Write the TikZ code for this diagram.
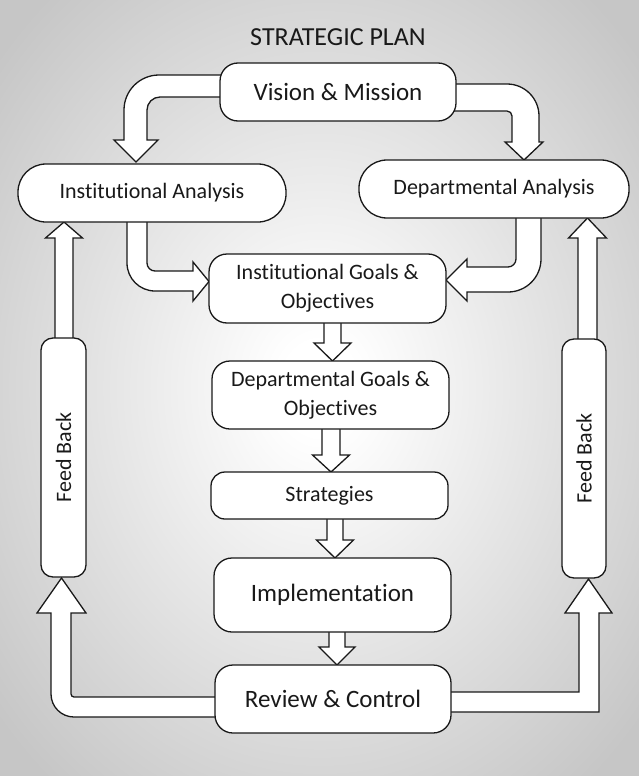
\documentclass[tikz,border=0pt]{standalone}
\usepackage{fontspec}
\setmainfont[Ligatures=NoCommon]{Carlito}
\usetikzlibrary{calc}
\definecolor{bgc}{RGB}{198,198,198}
\definecolor{ink}{RGB}{25,25,25}
\pgfdeclareradialshading{bgshade}{\pgfpoint{0bp}{0bp}}{color(0bp)=(white); color(3bp)=(white); color(33bp)=(bgc); color(50bp)=(bgc)}
\pgfdeclarelayer{back}
\pgfdeclarelayer{arr}
\pgfsetlayers{back,arr,main}
\newcommand{\vblk}[6]{% x centre, shaft half width, head half width, y start, y head base, y tip
  \draw[blk] ({#1-#2},-#4) -- ({#1-#2},-#5) -- ({#1-#3},-#5) -- (#1,-#6) -- ({#1+#3},-#5) -- ({#1+#2},-#5) -- ({#1+#2},-#4) -- cycle;}
\begin{document}
\begin{tikzpicture}[x=1pt,y=1pt,
  box/.style={draw=ink,fill=white,line width=1.3pt,rounded corners=18pt,inner sep=0pt,align=center,text=ink,font=\fontsize{22}{29}\selectfont},
  big/.style={font=\fontsize{25}{30}\selectfont},
  blk/.style={draw=ink,fill=white,line width=1.3pt,line join=miter}]
\useasboundingbox (0,0) rectangle (639,-776);
\begin{pgfonlayer}{back}
\shade[shading=bgshade] (0,0) rectangle (639,-776);
\end{pgfonlayer}

\node[text=ink,font=\fontsize{26}{30}\selectfont] (title) at (338,-37) {STRATEGIC PLAN};
\node[box,big,minimum width=236pt,minimum height=58pt] (vm) at (338,-92) {Vision \& Mission};
\node[box,minimum width=268pt,minimum height=58pt,rounded corners=28pt] (ia) at (152,-193) {Institutional Analysis};
\node[box,minimum width=270pt,minimum height=58pt,rounded corners=28pt] (da) at (494,-189) {Departmental Analysis};
\node[box,minimum width=237pt,minimum height=69pt] (ig) at (327.5,-288.5) {Institutional Goals \&\\Objectives};
\node[box,minimum width=237pt,minimum height=68pt] (dg) at (330.5,-395) {Departmental Goals \&\\Objectives};
\node[box,minimum width=237pt,minimum height=47pt,rounded corners=14pt] (st) at (329.5,-495.5) {Strategies};
\node[box,big,minimum width=237pt,minimum height=74pt] (im) at (332.5,-595) {Implementation};
\node[box,big,minimum width=236pt,minimum height=68pt] (rc) at (333,-699) {Review \& Control};
\node[box,rotate=90,minimum width=239pt,minimum height=45pt,rounded corners=12pt] (fl) at (63.5,-457.5) {Feed Back};
\node[box,rotate=90,minimum width=239pt,minimum height=44pt,rounded corners=12pt] (fr) at (584,-458.5) {Feed Back};

\begin{pgfonlayer}{arr}
% Vision -> Institutional Analysis
\draw[blk] (232,-75) -- (159,-75) arc[start angle=90,end angle=180,radius=35] -- (124,-140) -- (114,-140) -- (136,-162) -- (158,-140) -- (147,-140) -- (147,-110) arc[start angle=180,end angle=90,radius=13] -- (232,-97) -- cycle;
% Vision -> Departmental Analysis
\draw[blk] (445,-84) -- (507,-84) arc[start angle=90,end angle=0,radius=32] -- (539,-142) -- (543,-142) -- (524,-160) -- (505,-142) -- (512,-142) -- (512,-116) arc[start angle=0,end angle=90,radius=5] -- (445,-111) -- cycle;
% Institutional Analysis -> Institutional Goals
\draw[blk] (127,-212) -- (127,-263) arc[start angle=180,end angle=270,radius=28] -- (193,-291) -- (193,-301) -- (209,-281.5) -- (193,-262) -- (193,-271) -- (155,-271) arc[start angle=270,end angle=180,radius=8] -- (147,-212) -- cycle;
% Departmental Analysis -> Institutional Goals
\draw[blk] (541,-208) -- (541,-259) arc[start angle=0,end angle=-90,radius=33] -- (467,-292) -- (467,-301) -- (446,-280) -- (467,-259) -- (467,-267) -- (508,-267) arc[start angle=-90,end angle=0,radius=8] -- (516,-208) -- cycle;
% chain
\vblk{332.5}{8.5}{18.5}{315}{343}{361}
\vblk{331}{9}{18.5}{420}{455}{472}
\vblk{335}{8}{18.5}{512}{540}{558}
\vblk{337}{8}{18}{625}{647}{665}
% feedback up arrows
\vblk{64}{9}{18.5}{345}{238}{222}
\vblk{587.5}{9.5}{19}{345}{238}{218}
% Review -> left feedback
\draw[blk] (225,-717) -- (74,-717) arc[start angle=270,end angle=180,radius=23] -- (51,-613) -- (37,-613) -- (61.5,-578) -- (86,-613) -- (71,-613) -- (71,-694) arc[start angle=180,end angle=270,radius=3] -- (225,-697) -- cycle;
% Review -> right feedback
\draw[blk] (441,-692) -- (579,-692) -- (579,-613) -- (565,-613) -- (588.5,-579) -- (612,-613) -- (599,-613) -- (599,-712) -- (441,-712) -- cycle;
\end{pgfonlayer}
\end{tikzpicture}
\end{document}
